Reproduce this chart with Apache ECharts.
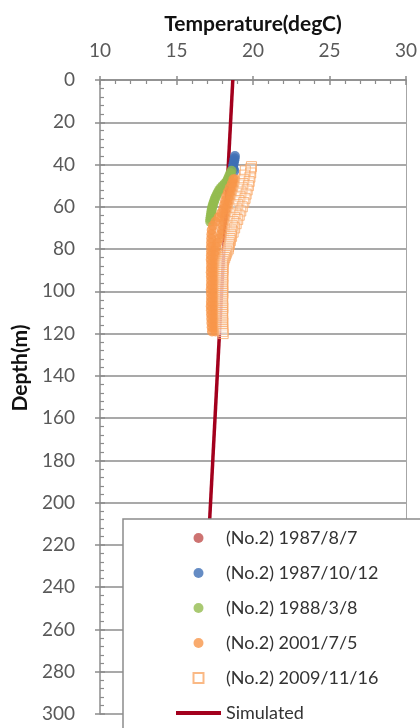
<!DOCTYPE html>
<html>
<head>
<meta charset="utf-8">
<script src="https://cdn.jsdelivr.net/npm/echarts@6/dist/echarts.min.js"></script>
<style>
  html, body { margin: 0; padding: 0; background: #fff; }
  #chart { width: 420px; height: 728px; }
</style>
</head>
<body>
<div id="chart"></div>
<script>
// Temperature profiles of well No.2 (depth in m, temperature in degC)
const tempTicks = [10, 15, 20, 25, 30];
const depthTicks = [0, 20, 40, 60, 80, 100, 120, 140, 160, 180, 200, 220, 240, 260, 280, 300];

const seriesNames = [
  '(No.2) 1987/8/7',
  '(No.2) 1987/10/12',
  '(No.2) 1988/3/8',
  '(No.2) 2001/7/5',
  '(No.2) 2009/11/16',
  'Simulated'
];

// 1987/8/7: no readings shown
const depth19870807 = [];
const temp19870807 = [];

// 1987/10/12
const depth19871012 = [36, 37, 38, 39, 40, 41, 42, 43];
const temp19871012 = [18.82, 18.8, 18.78, 18.75, 18.72, 18.7, 18.72, 18.78];

// 1988/3/8
const depth19880308 = [43, 44, 45, 46, 47, 48, 49, 50, 51, 52, 53, 54, 55, 56, 57, 58, 59, 60, 61, 62, 63, 64, 65, 66, 67];
const temp19880308 = [18.6, 18.53, 18.47, 18.41, 18.35, 18.28, 18.15, 18.02, 17.9, 17.8, 17.72, 17.65, 17.58, 17.52,
  17.47, 17.43, 17.38, 17.34, 17.31, 17.29, 17.27, 17.25, 17.23, 17.21, 17.2];

// 2001/7/5: two readings per depth
const depth20010705 = [47, 49, 51, 53, 55, 57, 59, 61, 63, 65, 67, 69, 71, 73, 75, 77, 79, 81, 83, 85,
  87, 89, 91, 93, 95, 97, 99, 101, 103, 105, 107, 109, 111, 113, 115, 117, 119];
const temp20010705a = [18.72, 18.62, 18.48, 18.36, 18.25, 18.18, 18.12, 18.05, 17.92, 17.75, 17.55, 17.38, 17.3, 17.28,
  17.27, 17.26, 17.25, 17.26, 17.25, 17.24, 17.26, 17.25, 17.24, 17.25, 17.26, 17.25, 17.24, 17.25, 17.26, 17.25,
  17.24, 17.25, 17.26, 17.27, 17.28, 17.3, 17.32];
const temp20010705b = [18.84, 18.8, 18.73, 18.64, 18.55, 18.46, 18.36, 18.28, 18.22, 18.17, 18.11, 18.04, 17.97, 17.9,
  17.8, 17.68, 17.6, 17.55, 17.53, 17.52, 17.53, 17.52, 17.51, 17.52, 17.53, 17.52, 17.51, 17.52, 17.53, 17.52,
  17.51, 17.52, 17.53, 17.52, 17.52, 17.53, 17.55];

// 2009/11/16
const depth20091116 = [41, 42, 43, 44, 45, 46, 47, 48, 49, 50, 51, 52, 53, 54, 55, 56, 57, 58, 59, 60,
  61, 62, 63, 64, 65, 66, 67, 68, 69, 70, 71, 72, 73, 74, 75, 76, 77, 78, 79, 80,
  81, 82, 83, 84, 85, 86, 87, 88, 89, 90, 91, 92, 93, 94, 95, 96, 97, 98, 99, 100,
  101, 102, 103, 104, 105, 106, 107, 108, 109, 110, 111, 112, 113, 114, 115, 116, 117, 118, 119, 120];
const temp20091116 = [19.9, 19.85, 19.5, 19.85, 19.45, 19.8, 19.4, 19.75, 19.35, 19.7, 19.3, 19.62, 19.22, 19.55, 19.15,
  19.48, 19.08, 19.4, 19.0, 19.3, 18.95, 19.2, 18.88, 19.1, 18.8, 19.0, 18.72, 18.9, 18.65, 18.8,
  18.6, 18.7, 18.55, 18.6, 18.5, 18.52, 18.45, 18.45, 18.4, 18.38, 18.3, 18.25, 18.2, 18.15, 18.1,
  18.05, 18.03, 18.02, 18.04, 18.03, 18.02, 18.01, 18.03, 18.02, 18.0, 18.02, 18.03, 18.01, 18.0, 18.02,
  18.03, 18.01, 18.0, 18.02, 18.01, 18.0, 18.02, 18.03, 18.01, 18.0, 18.02, 18.01, 18.0, 18.02, 18.03,
  18.01, 18.0, 18.02, 18.03, 18.05];

// Simulated profile
const depthSimulated = [0, 300];
const tempSimulated = [18.68, 16.5];

function pairs(temps, depths) {
  return depths.map((d, i) => [temps[i], d]);
}

const chart = echarts.init(document.getElementById('chart'), null, { renderer: 'canvas' });

const FONT = 'Lato, "Noto Sans", sans-serif';
const AXIS_GRAY = '#8c8c8c';
const LABEL_GRAY = '#595959';
const SIM_RED = '#a3001d';

const tempMin = tempTicks[0], tempMax = tempTicks[tempTicks.length - 1];
const tempStep = tempTicks[1] - tempTicks[0];
const depthMin = depthTicks[0], depthMax = depthTicks[depthTicks.length - 1];
const depthStep = depthTicks[1] - depthTicks[0];

// square and bar shapes for legend icons
const SQUARE_ICON = 'path://M0,0 L10,0 L10,10 L0,10 Z';
const BAR_ICON = 'path://M0,0 L45,0 L45,4 L0,4 Z';

const option = {
  animation: false,
  backgroundColor: '#fff',
  grid: { left: 100, right: 13, top: 80, bottom: 14, containLabel: false },
  xAxis: [
    {
      type: 'value', position: 'top', min: tempMin, max: tempMax, interval: tempStep,
      name: 'Temperature(degC)', nameLocation: 'middle', nameGap: 45,
      nameTextStyle: { fontFamily: FONT, fontSize: 21, fontWeight: 'bold', color: '#111' },
      axisLine: { show: true, lineStyle: { color: AXIS_GRAY, width: 1.5 } },
      axisTick: { show: true, inside: false, length: 4, lineStyle: { color: AXIS_GRAY, width: 1.5 } },
      axisLabel: { fontFamily: FONT, fontSize: 19, color: LABEL_GRAY, margin: 20 },
      splitLine: { show: false }
    },
    {
      type: 'value', position: 'top', min: tempMin, max: tempMax, interval: tempStep,
      axisLine: { show: false },
      axisTick: { show: true, inside: true, length: 5, lineStyle: { color: AXIS_GRAY, width: 1.5 } },
      minorTick: { show: true, splitNumber: 5, length: 4, lineStyle: { color: AXIS_GRAY, width: 1.2 } },
      axisLabel: { show: false },
      splitLine: { show: false }
    }
  ],
  yAxis: [
    {
      type: 'value', inverse: true, position: 'left', min: depthMin, max: depthMax, interval: depthStep,
      name: 'Depth(m)', nameLocation: 'middle', nameGap: 58,
      nameTextStyle: { fontFamily: FONT, fontSize: 21, fontWeight: 'bold', color: '#111', padding: [0, 0, 0, 58] },
      axisLine: { show: true, lineStyle: { color: AXIS_GRAY, width: 1.5 } },
      axisTick: { show: true, inside: false, length: 5, lineStyle: { color: AXIS_GRAY, width: 1.5 } },
      axisLabel: { fontFamily: FONT, fontSize: 19, color: LABEL_GRAY, margin: 25 },
      splitLine: { show: true, lineStyle: { color: AXIS_GRAY, width: 1.5 } }
    },
    {
      type: 'value', inverse: true, position: 'left', min: depthMin, max: depthMax, interval: depthStep,
      axisLine: { show: false },
      axisTick: { show: true, inside: true, length: 5, lineStyle: { color: AXIS_GRAY, width: 1.5 } },
      minorTick: { show: true, splitNumber: 5, length: 4, lineStyle: { color: AXIS_GRAY, width: 1.2 } },
      axisLabel: { show: false },
      splitLine: { show: false }
    },
    {
      type: 'value', inverse: true, position: 'right', min: depthMin, max: depthMax, interval: depthStep,
      axisLine: { show: true, lineStyle: { color: '#a6a6a6', width: 1 } },
      axisTick: { show: false }, axisLabel: { show: false }, splitLine: { show: false }
    }
  ],
  legend: {
    data: [
      { name: seriesNames[0] },
      { name: seriesNames[1] },
      { name: seriesNames[2] },
      { name: seriesNames[3] },
      { name: seriesNames[4], icon: SQUARE_ICON },
      { name: seriesNames[5], icon: BAR_ICON }
    ],
    orient: 'vertical',
    left: 123, top: 519, height: 400,
    padding: [10, 320, 30, 53],
    itemWidth: 45, itemHeight: 10, itemGap: 17,
    backgroundColor: '#fff',
    borderColor: '#8c8c8c', borderWidth: 1.5,
    textStyle: { fontFamily: FONT, fontSize: 18, color: '#333' },
    selectedMode: false
  },
  series: [
    {
      name: seriesNames[5], type: 'line', data: pairs(tempSimulated, depthSimulated),
      xAxisIndex: 0, yAxisIndex: 0, symbol: 'none', z: 1,
      lineStyle: { color: SIM_RED, width: 3.5 }, itemStyle: { color: SIM_RED }
    },
    {
      name: seriesNames[0], type: 'scatter', data: pairs(temp19870807, depth19870807),
      symbol: 'circle', symbolSize: 10, itemStyle: { color: '#c0504d' }
    },
    {
      name: seriesNames[1], type: 'scatter', data: pairs(temp19871012, depth19871012),
      symbol: 'circle', symbolSize: 10, itemStyle: { color: '#3f6fb5' }
    },
    {
      name: seriesNames[2], type: 'scatter', data: pairs(temp19880308, depth19880308),
      symbol: 'circle', symbolSize: 10, itemStyle: { color: '#93bb4f' }
    },
    {
      name: seriesNames[3], type: 'scatter',
      data: pairs(temp20010705a, depth20010705).concat(pairs(temp20010705b, depth20010705)),
      symbol: 'circle', symbolSize: 10, itemStyle: { color: '#f7964a' }
    },
    {
      name: seriesNames[4], type: 'scatter', data: pairs(temp20091116, depth20091116),
      symbol: 'rect', symbolSize: 10,
      itemStyle: { color: 'rgba(255,255,255,0.25)', borderColor: '#f9a866', borderWidth: 1 }
    }
  ]
};

chart.setOption(option);
</script>
</body>
</html>
